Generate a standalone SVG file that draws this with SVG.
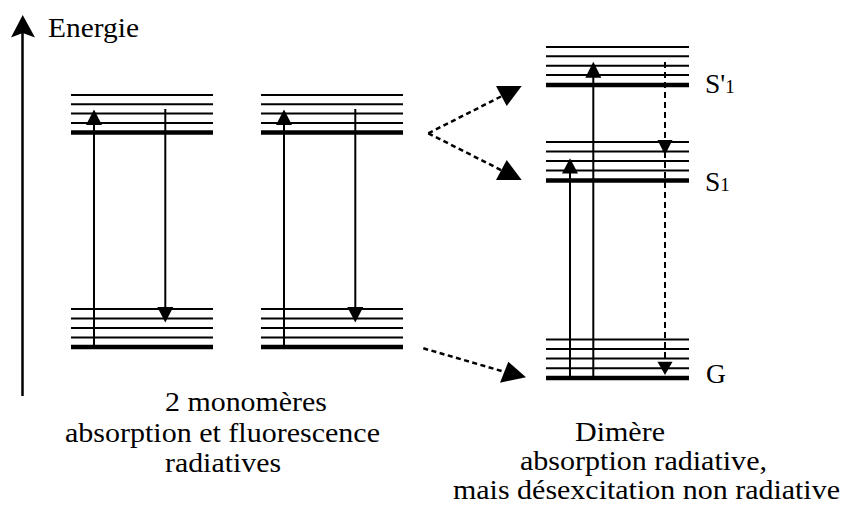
<svg xmlns="http://www.w3.org/2000/svg" width="845" height="506" viewBox="0 0 845 506">
<style>
.lv{stroke:#000;stroke-width:2;fill:none}
.lvb{stroke:#000;stroke-width:4.5;fill:none}
.ar{stroke:#000;stroke-width:2;fill:none}
.ds{stroke:#000;stroke-width:2;fill:none;stroke-dasharray:6,4}
.dd{stroke:#000;stroke-width:2.5;fill:none;stroke-dasharray:5,3.5}
.hd{fill:#000;stroke:none}
.t{font-size:27.5px;font-family:'Liberation Serif','Liberation Sans',Arial,sans-serif;fill:#000}
.sub{font-size:19px}
</style>
<rect width="845" height="506" fill="#fff"/>
<g id="axis">
<line x1="22.5" y1="396" x2="22.5" y2="30" stroke="#000" stroke-width="2.5"/>
<polygon class="hd" points="22.7,15 35,37.5 22.7,33 11,37.5"/>
<text class="t" x="48" y="37" textLength="91" lengthAdjust="spacingAndGlyphs">Energie</text>
</g>
<g id="monomer1">
<g id="m1-excited">
<line class="lv" x1="71" y1="95" x2="213" y2="95"/>
<line class="lv" x1="71" y1="104.3" x2="213" y2="104.3"/>
<line class="lv" x1="71" y1="113.6" x2="213" y2="113.6"/>
<line class="lv" x1="71" y1="123" x2="213" y2="123"/>
<line class="lvb" x1="71" y1="132.5" x2="213" y2="132.5"/>
</g>
<g id="m1-ground">
<line class="lv" x1="71" y1="309" x2="213" y2="309"/>
<line class="lv" x1="71" y1="318.5" x2="213" y2="318.5"/>
<line class="lv" x1="71" y1="328" x2="213" y2="328"/>
<line class="lv" x1="71" y1="337.5" x2="213" y2="337.5"/>
<line class="lvb" x1="71" y1="347" x2="213" y2="347"/>
</g>
</g>
<g id="monomer2">
<g id="m2-excited">
<line class="lv" x1="261" y1="95" x2="403" y2="95"/>
<line class="lv" x1="261" y1="104.3" x2="403" y2="104.3"/>
<line class="lv" x1="261" y1="113.6" x2="403" y2="113.6"/>
<line class="lv" x1="261" y1="123" x2="403" y2="123"/>
<line class="lvb" x1="261" y1="132.5" x2="403" y2="132.5"/>
</g>
<g id="m2-ground">
<line class="lv" x1="261" y1="309" x2="403" y2="309"/>
<line class="lv" x1="261" y1="318.5" x2="403" y2="318.5"/>
<line class="lv" x1="261" y1="328" x2="403" y2="328"/>
<line class="lv" x1="261" y1="337.5" x2="403" y2="337.5"/>
<line class="lvb" x1="261" y1="347" x2="403" y2="347"/>
</g>
</g>
<g id="dimer">
<g id="S1prime">
<line class="lv" x1="546" y1="47" x2="689" y2="47"/>
<line class="lv" x1="546" y1="56.3" x2="689" y2="56.3"/>
<line class="lv" x1="546" y1="65.7" x2="689" y2="65.7"/>
<line class="lv" x1="546" y1="75" x2="689" y2="75"/>
<line class="lvb" x1="546" y1="85" x2="689" y2="85"/>
<text class="t" x="705" y="93">S'<tspan class="sub">1</tspan></text>
</g>
<g id="S1">
<line class="lv" x1="546" y1="142" x2="689" y2="142"/>
<line class="lv" x1="546" y1="151.5" x2="689" y2="151.5"/>
<line class="lv" x1="546" y1="161" x2="689" y2="161"/>
<line class="lv" x1="546" y1="170.6" x2="689" y2="170.6"/>
<line class="lvb" x1="546" y1="180.5" x2="689" y2="180.5"/>
<text class="t" x="705" y="191">S<tspan class="sub">1</tspan></text>
</g>
<g id="G">
<line class="lv" x1="546" y1="339.5" x2="689" y2="339.5"/>
<line class="lv" x1="546" y1="349" x2="689" y2="349"/>
<line class="lv" x1="546" y1="358.6" x2="689" y2="358.6"/>
<line class="lv" x1="546" y1="368.2" x2="689" y2="368.2"/>
<line class="lvb" x1="546" y1="378" x2="689" y2="378"/>
<text class="t" x="706" y="383">G</text>
</g>
</g>
<g id="connectors">
<line class="ar" x1="94" y1="347" x2="94" y2="122"/>
<polygon class="hd" points="94,109.5 102,125 86,125"/>
<line class="ar" x1="165.3" y1="109" x2="165.3" y2="310"/>
<polygon class="hd" points="165.3,322.5 157.3,307 173.3,307"/>
<line class="ar" x1="284" y1="347" x2="284" y2="122"/>
<polygon class="hd" points="284,109.5 292,125 276,125"/>
<line class="ar" x1="355.3" y1="109" x2="355.3" y2="310"/>
<polygon class="hd" points="355.3,322.5 347.3,307 363.3,307"/>
<line class="ar" x1="593.3" y1="378" x2="593.3" y2="74"/>
<polygon class="hd" points="593.3,61.7 601.3,77.7 585.3,77.7"/>
<line class="ar" x1="570" y1="378" x2="570" y2="170"/>
<polygon class="hd" points="570,158.3 578,173.5 562,173.5"/>
<line class="ds" x1="665" y1="62" x2="665" y2="365"/>
<polygon class="hd" points="665,155 657.5,140 672.5,140"/>
<polygon class="hd" points="665,375 657.5,361.7 672.5,361.7"/>
<line class="dd" x1="428.3" y1="133.3" x2="503" y2="95.5"/>
<polygon class="hd" points="521.7,86 496,86 506.7,106"/>
<line class="dd" x1="428.3" y1="133.3" x2="503" y2="171"/>
<polygon class="hd" points="521.7,180 496,180 506.7,160"/>
<line class="dd" x1="423.3" y1="348.3" x2="505" y2="372"/>
<polygon class="hd" points="526,377.3 500,382.7 508.3,361.7"/>
</g>
<g id="labels">
<text class="t" x="165" y="411" textLength="162" lengthAdjust="spacingAndGlyphs">2 monomères</text>
<text class="t" x="65" y="442" textLength="315" lengthAdjust="spacingAndGlyphs">absorption et fluorescence</text>
<text class="t" x="165" y="472" textLength="116" lengthAdjust="spacingAndGlyphs">radiatives</text>
<text class="t" x="575" y="441" textLength="90" lengthAdjust="spacingAndGlyphs">Dimère</text>
<text class="t" x="520" y="470" textLength="247" lengthAdjust="spacingAndGlyphs">absorption radiative,</text>
<text class="t" x="453" y="499" textLength="387" lengthAdjust="spacingAndGlyphs">mais désexcitation non radiative</text>
</g>
</svg>
